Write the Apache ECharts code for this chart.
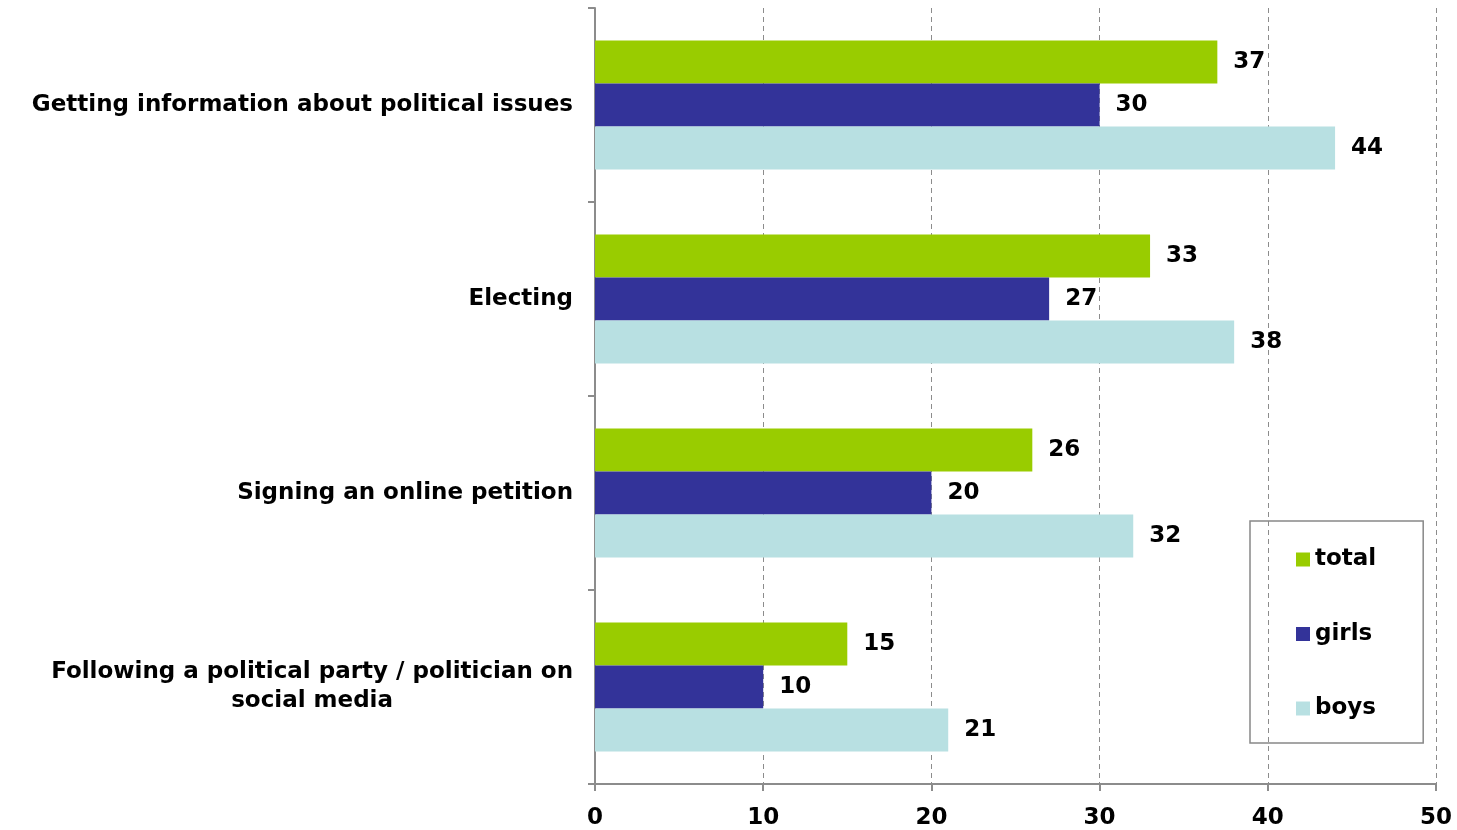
<!DOCTYPE html>
<html>
<head>
<meta charset="utf-8">
<script src="https://cdn.jsdelivr.net/npm/echarts@6/dist/echarts.min.js"></script>
<style>
  html, body { margin: 0; padding: 0; background: #fff; }
  #chart { width: 1457px; height: 830px; }
</style>
</head>
<body>
<div id="chart"></div>
<script>
var categories = [
  'Getting information about political issues',
  'Electing',
  'Signing an online petition',
  'Following a political party / politician on\nsocial media'
];
var totalData = [37, 33, 26, 15];
var girlsData = [30, 27, 20, 10];
var boysData = [44, 38, 32, 21];
var xTicks = [0, 10, 20, 30, 40, 50];

var font = 'DejaVu Sans, Verdana, sans-serif';
var fs = 23;
var axisGray = '#8c8c8c';

var chart = echarts.init(document.getElementById('chart'));

function barLabel() {
  return {
    show: true,
    position: 'right',
    distance: 16,
    color: '#000',
    fontFamily: font,
    fontWeight: 'bold',
    fontSize: fs
  };
}

var option = {
  animation: false,
  textStyle: { fontFamily: font },
  grid: { left: 595, right: 21, top: 8, bottom: 45, containLabel: false },
  legend: {
    orient: 'vertical',
    left: 1250,
    top: 521,
    padding: [27, 47, 23, 46],
    itemGap: 51.5,
    itemWidth: 14,
    itemHeight: 14,
    icon: 'rect',
    borderColor: '#888',
    borderWidth: 1.5,
    textStyle: { color: '#000', fontFamily: font, fontWeight: 'bold', fontSize: fs },
    data: ['total', 'girls', 'boys']
  },
  xAxis: {
    type: 'value',
    min: 0,
    max: 50,
    interval: 10,
    axisLine: { show: true, lineStyle: { color: axisGray, width: 2 } },
    axisTick: { show: true, length: 7, lineStyle: { color: axisGray, width: 2 } },
    axisLabel: {
      margin: 23,
      color: '#000',
      fontFamily: font,
      fontWeight: 'bold',
      fontSize: fs,
      formatter: function (v) { return xTicks.indexOf(v) >= 0 ? String(v) : ''; }
    },
    splitLine: { show: true, lineStyle: { color: axisGray, type: [5, 4], width: 1 } }
  },
  yAxis: {
    type: 'category',
    inverse: true,
    data: categories,
    axisLine: { show: true, lineStyle: { color: axisGray, width: 2 } },
    axisTick: { show: true, length: 7, lineStyle: { color: axisGray, width: 2 } },
    axisLabel: {
      margin: 22,
      color: '#000',
      fontFamily: font,
      fontWeight: 'bold',
      fontSize: fs,
      lineHeight: 29,
      formatter: function (v) {
        if (v.indexOf('\n') >= 0) {
          return v.split('\n').map(function (s) { return '{c|' + s + '}'; }).join('\n');
        }
        return v;
      },
      rich: {
        c: { align: 'center', fontFamily: font, fontWeight: 'bold', fontSize: fs, lineHeight: 29, color: '#000' }
      }
    }
  },
  series: [
    {
      name: 'total', type: 'bar', data: totalData,
      itemStyle: { color: '#99cc00' },
      barGap: '0%', barCategoryGap: '33.6%',
      label: barLabel()
    },
    {
      name: 'girls', type: 'bar', data: girlsData,
      itemStyle: { color: '#333399' },
      barGap: '0%', barCategoryGap: '33.6%',
      label: barLabel()
    },
    {
      name: 'boys', type: 'bar', data: boysData,
      itemStyle: { color: '#b8e0e2' },
      barGap: '0%', barCategoryGap: '33.6%',
      label: barLabel()
    }
  ]
};

chart.setOption(option);
</script>
</body>
</html>
